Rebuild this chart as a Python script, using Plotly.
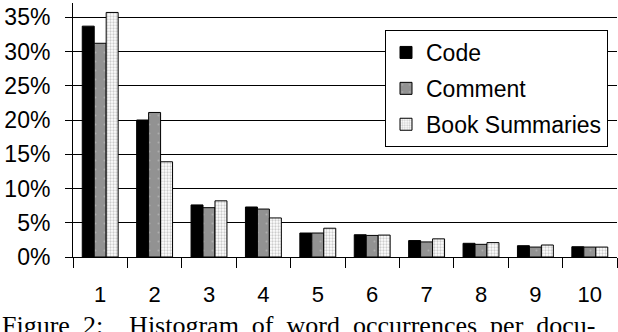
import plotly.graph_objects as go

categories = ["1", "2", "3", "4", "5", "6", "7", "8", "9", "10"]
code = [33.7, 20.0, 7.6, 7.3, 3.5, 3.25, 2.4, 2.0, 1.65, 1.5]
comment = [31.2, 21.1, 7.2, 7.0, 3.5, 3.15, 2.2, 1.85, 1.45, 1.45]
book = [35.7, 13.9, 8.2, 5.7, 4.2, 3.2, 2.65, 2.1, 1.75, 1.45]
y_ticks = [0, 5, 10, 15, 20, 25, 30, 35]
y_tick_text = ["0%", "5%", "10%", "15%", "20%", "25%", "30%", "35%"]
caption_words = ["Figure", "2:", "", "Histogram", "of", "word", "occurrences", "per", "docu-"]
caption = "\u00a0\u00a0".join(caption_words)

W, H = 618, 332
L, R, T, B = 73, 1, 3, 75
plot_w = W - L - R
plot_h = H - T - B

fig = go.Figure()
fig.add_trace(go.Bar(
    x=categories, y=code, name="Code", legendgroup="a",
    marker=dict(color="black", line=dict(color="black", width=1)),
))
fig.add_trace(go.Bar(
    x=categories, y=comment, name="Comment", legendgroup="b",
    marker=dict(color="#929292", line=dict(color="black", width=1),
                pattern=dict(shape=".", fgcolor="#c8c8c8", bgcolor="#929292",
                             size=9, solidity=0.04)),
))
fig.add_trace(go.Bar(
    x=categories, y=book, name="Book Summaries", legendgroup="c",
    marker=dict(color="white", line=dict(color="black", width=1),
                pattern=dict(shape=".", fgcolor="#9a9a9a", bgcolor="white",
                             size=3, solidity=0.45)),
))

fig.add_annotation(
    text=caption, xref="paper", yref="paper",
    x=(0 - L) / plot_w, y=(H - B - 309) / plot_h,
    xanchor="left", yanchor="top", showarrow=False,
    font=dict(family="Liberation Serif", size=26, color="black"),
)

fig.update_layout(
    width=W, height=H,
    margin=dict(l=L, r=R, t=T, b=B),
    paper_bgcolor="white", plot_bgcolor="white",
    barmode="group", bargap=0.34, bargroupgap=0,
    font=dict(family="Liberation Sans", size=23, color="black"),
    legend=dict(
        x=(385 - L) / plot_w, y=(H - B - 30) / plot_h,
        xanchor="left", yanchor="top",
        bgcolor="white", bordercolor="black", borderwidth=1,
        font=dict(family="Liberation Sans", size=23, color="black"),
        tracegroupgap=3,
    ),
    showlegend=True,
)
fig.update_xaxes(
    type="category", showline=True, linecolor="black", linewidth=1,
    ticks="outside", tickson="boundaries", ticklen=10, tickcolor="black",
    showgrid=False, ticklabelstandoff=18,
    tickfont=dict(family="Liberation Sans", size=22, color="black"),
)
fig.update_yaxes(
    range=[0, 37.08], tickvals=y_ticks, ticktext=y_tick_text,
    showline=True, linecolor="black", linewidth=1,
    ticks="outside", ticklen=7, tickcolor="black",
    showgrid=True, gridcolor="black", gridwidth=1,
    zeroline=False, ticklabelstandoff=10,
    tickfont=dict(family="Liberation Sans", size=23, color="black"),
)

fig.write_html(
    "out.html",
    config={"displayModeBar": False},
    post_script="document.body.style.margin='0';document.body.style.padding='0';",
)
